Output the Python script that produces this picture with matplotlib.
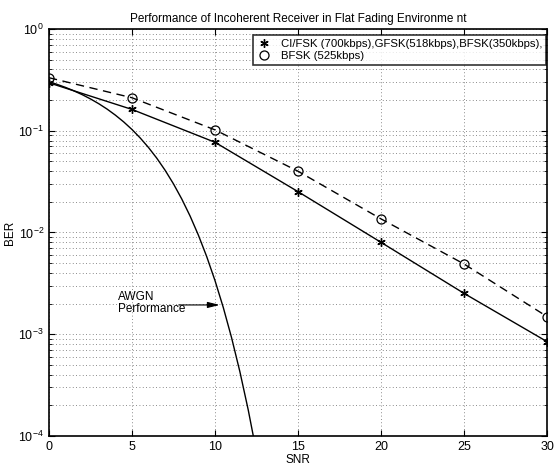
import matplotlib
matplotlib.use("Agg")
import matplotlib.pyplot as plt
from matplotlib.ticker import LogLocator, NullFormatter

plt.rcParams['font.family'] = ['Liberation Sans', 'DejaVu Sans']
plt.rcParams['mathtext.fontset'] = 'custom'
plt.rcParams['mathtext.rm'] = 'Liberation Sans'

# data
snr = [0, 5, 10, 15, 20, 25, 30]
ber_cifsk = [0.296, 0.162, 0.077, 0.0252, 0.0080, 0.00252, 0.000845]
ber_bfsk = [0.332, 0.211, 0.102, 0.040, 0.0136, 0.0049, 0.00149]

snr_awgn = [0, 0.5, 1, 1.5, 2, 2.5, 3, 3.5, 4, 4.5, 5, 5.5, 6, 6.5, 7, 7.5,
            8, 8.5, 9, 9.5, 10, 10.5, 11, 11.5, 12, 12.5]
ber_awgn = [0.3033, 0.2853, 0.2665, 0.2467, 0.2264, 0.2055, 0.1844, 0.1633,
            0.1424, 0.1222, 0.1029, 0.0848, 0.0683, 0.0536, 0.0408, 0.03005,
            0.02133, 0.01452, 0.00942, 0.005806, 0.00337, 0.001831, 0.000923,
            0.000428, 0.000181, 0.0000690]

fig = plt.figure(figsize=(5.56, 4.66), dpi=100)
ax = fig.add_axes([0.088, 0.0644, 0.896, 0.8734])

# curves
ax.plot(snr, ber_cifsk, '-', color='black', linewidth=1.0)
ax.plot(snr, ber_bfsk, '--', color='black', linewidth=1.0, dashes=(6, 4))
ax.plot(snr_awgn, ber_awgn, '-', color='black', linewidth=1.0)

# markers (legend entries)
ax.plot(snr, ber_cifsk, linestyle='none', marker=(6, 2, 0), color='black',
        markersize=6, markeredgewidth=1.0,
        label='CI/FSK (700kbps),GFSK(518kbps),BFSK(350kbps),')
ax.plot(snr, ber_bfsk, linestyle='none', marker='o', markerfacecolor='none',
        markeredgecolor='black', markersize=6.5, markeredgewidth=0.9,
        label='BFSK (525kbps)')

ax.set_yscale('log')
ax.set_xlim(0, 30)
ax.set_ylim(1e-4, 1)
ax.set_xticks([0, 5, 10, 15, 20, 25, 30])
ax.yaxis.set_major_locator(LogLocator(base=10, numticks=10))
ax.yaxis.set_minor_locator(LogLocator(base=10, subs=range(2, 10), numticks=10))
ax.yaxis.set_minor_formatter(NullFormatter())

grid_style = dict(linestyle=(0, (1, 3)), color='0.4', linewidth=0.6)
ax.grid(True, which='major', **grid_style)
ax.grid(True, which='minor', axis='y', **grid_style)

ax.tick_params(direction='in', which='both', labelsize=9, top=True, right=True)
ax.tick_params(which='minor', length=2)
ax.tick_params(which='major', length=4)
for s in ax.spines.values():
    s.set_linewidth(1.2)

ax.set_title('Performance of Incoherent Receiver in Flat Fading Environme nt',
             fontsize=8.5, pad=5)
ax.set_xlabel('SNR', fontsize=8.5, labelpad=1)
ax.set_ylabel('BER', fontsize=8.5, labelpad=2)

leg = ax.legend(loc='upper right', bbox_to_anchor=(0.998, 0.985),
                fontsize=8.2, frameon=True, fancybox=False,
                edgecolor='black', borderpad=0.35, labelspacing=0.15,
                handletextpad=0.9, handlelength=1.2, borderaxespad=0)
leg.get_frame().set_linewidth(1.2)

# AWGN annotation
ax.text(4.15, 0.00203, 'AWGN\nPerformance', fontsize=8.5, ha='left', va='center',
        linespacing=1.0)
ax.annotate('', xy=(10.45, 0.00194), xytext=(7.65, 0.00194),
            arrowprops=dict(arrowstyle='-|>,head_length=0.8,head_width=0.2',
                            color='black', lw=0.8, mutation_scale=9))

fig.savefig('out.png', dpi=100)
